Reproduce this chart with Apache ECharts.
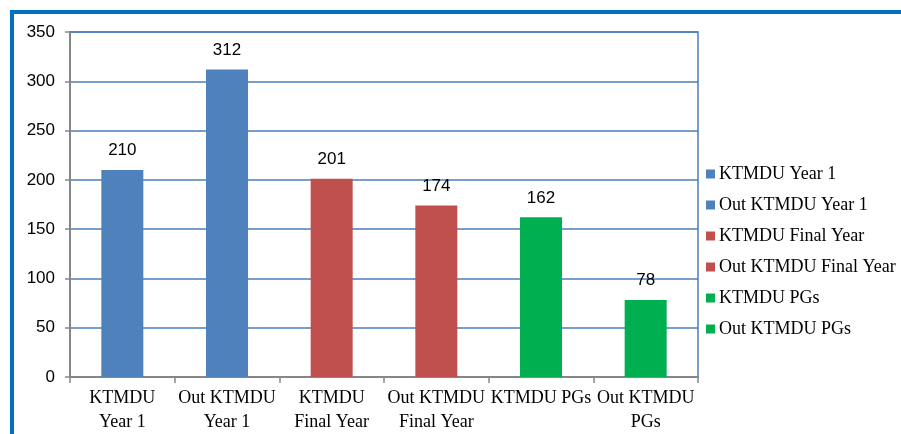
<!DOCTYPE html>
<html>
<head>
<meta charset="utf-8">
<script src="https://cdn.jsdelivr.net/npm/echarts@6/dist/echarts.min.js"></script>
<style>
  html, body { margin: 0; padding: 0; background: #fff; }
  #chart { width: 901px; height: 434px; }
</style>
</head>
<body>
<div id="chart"></div>
<script>
var categories = ['KTMDU Year 1', 'Out KTMDU Year 1', 'KTMDU Final Year', 'Out KTMDU Final Year', 'KTMDU PGs', 'Out KTMDU PGs'];
var axisLabels = ['KTMDU\nYear 1', 'Out KTMDU\nYear 1', 'KTMDU\nFinal Year', 'Out KTMDU\nFinal Year', 'KTMDU PGs', 'Out KTMDU\nPGs'];
var values = [210, 312, 201, 174, 162, 78];
var colors = ['#4f81bd', '#4f81bd', '#c0504d', '#c0504d', '#00b050', '#00b050'];

// one series per category so the legend lists each bar
var series = categories.map(function (name, i) {
  return {
    name: name,
    type: 'bar',
    stack: 'all',
    barWidth: 42,
    itemStyle: { color: colors[i] },
    label: {
      show: true,
      position: 'top',
      distance: 11,
      color: '#000',
      fontFamily: 'Liberation Sans',
      fontSize: 17
    },
    data: values.map(function (v, j) { return j === i ? v : '-'; })
  };
});

var chart = echarts.init(document.getElementById('chart'));
chart.setOption({
  animation: false,
  graphic: [{
    type: 'rect',
    shape: { x: 12, y: 12, width: 1000, height: 1000 },
    style: { fill: 'none', stroke: '#0070c0', lineWidth: 4 },
    z: 100
  }],
  legend: {
    orient: 'vertical',
    left: 706,
    top: 165,
    padding: 0,
    itemWidth: 9,
    itemHeight: 9,
    itemGap: 13,
    icon: 'rect',
    textStyle: { fontFamily: 'Liberation Serif', fontSize: 18, color: '#000', padding: [0, 0, 0, -1] },
    data: categories
  },
  grid: {
    left: 70, right: 203, top: 32, bottom: 57,
    show: true,
    borderColor: '#4a7ebb',
    borderWidth: 1.5
  },
  xAxis: {
    type: 'category',
    data: axisLabels,
    axisLine: { lineStyle: { color: '#868686', width: 2 } },
    axisTick: { show: true, length: 6, lineStyle: { color: '#868686', width: 1.5 } },
    axisLabel: {
      interval: 0,
      margin: 9,
      color: '#000',
      fontFamily: 'Liberation Serif',
      fontSize: 18,
      lineHeight: 24
    }
  },
  yAxis: {
    type: 'value',
    min: 0,
    max: 350,
    interval: 50,
    axisLine: { show: true, lineStyle: { color: '#868686', width: 2 } },
    axisTick: { show: true, length: 5, lineStyle: { color: '#868686', width: 1.5 } },
    axisLabel: {
      margin: 15,
      color: '#000',
      fontFamily: 'Liberation Sans',
      fontSize: 17
    },
    splitLine: { lineStyle: { color: '#4a7ebb', width: 1.5 } }
  },
  series: series
});
</script>
</body>
</html>
